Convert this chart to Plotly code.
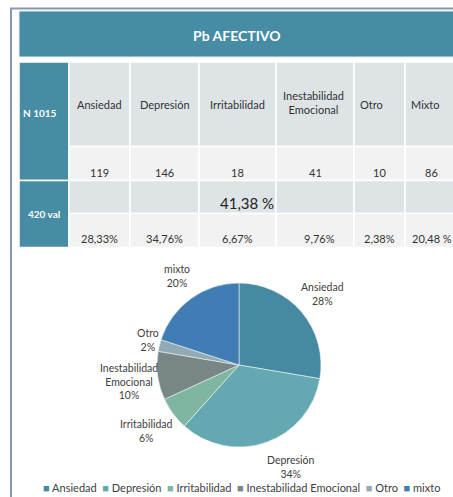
import plotly.graph_objects as go

W, H = 453, 497

# ---------------- data ----------------
title = "Pb AFECTIVO"
n_label = "N 1015"
val_label = "420 val"
categories = ["Ansiedad", "Depresión", "Irritabilidad", "Inestabilidad Emocional", "Otro", "Mixto"]
counts = [119, 146, 18, 41, 10, 86]
percents = ["28,33%", "34,76%", "6,67%", "9,76%", "2,38%", "20,48 %"]
total_pct = "41,38 %"

pie_labels = ["Ansiedad", "Depresión", "Irritabilidad", "Inestabilidad Emocional", "Otro", "mixto"]
pie_values = [28.33, 34.76, 6.67, 9.76, 2.38, 20.48]
pie_pct_text = ["28%", "34%", "6%", "10%", "2%", "20%"]
slice_colors = ["#4689a2", "#64a9b1", "#7fb6a1", "#798686", "#91abb4", "#3f7db4"]

# layout only: pixel centres of the pie's data labels (as placed in the reference)
pie_label_pos = [(322, 294), (291, 467), (146, 431), (129, 381), (148, 340), (177, 276)]

# ---------------- helpers ----------------
def px(x):
    return x / W

def py(y):
    return 1 - y / H

TEAL = "#458ca4"
GRAY_ROW = "#dee3e6"
LIGHT_ROW = "#f2f2f2"
TXT = "#333333"
FONT = "Lato"

shapes = []
annotations = []

def rect(x0, y0, x1, y1, fill, line="white", lw=1.5):
    shapes.append(dict(type="rect", xref="paper", yref="paper",
                       x0=px(x0), x1=px(x1), y0=py(y1), y1=py(y0),
                       fillcolor=fill, line=dict(color=line, width=lw), layer="below"))

def text(x, y, s, size=11, color=TXT, xanchor="center", bold=False):
    if bold:
        s = "<b>" + s + "</b>"
    annotations.append(dict(xref="paper", yref="paper", x=px(x), y=py(y), text=s,
                            showarrow=False, xanchor=xanchor, yanchor="middle",
                            font=dict(family=FONT, size=size, color=color)))

# frame
frame_col = "#8797b4"
shapes.append(dict(type="line", xref="paper", yref="paper", x0=px(10), x1=px(460),
                   y0=py(8.5), y1=py(8.5), line=dict(color=frame_col, width=2)))
shapes.append(dict(type="line", xref="paper", yref="paper", x0=px(11), x1=px(11),
                   y0=py(8), y1=py(500), line=dict(color=frame_col, width=2)))

# title header
rect(19, 11, 460, 57, TEAL, line="#e9eef0", lw=1)
text(237, 35, title, size=14, color="white", bold=True)

# table
col_x = [19, 69, 130, 199, 276, 354, 405, 458]
row_y = [62, 146.5, 180.5, 213.5, 247.5]
row_fill = [GRAY_ROW, LIGHT_ROW, GRAY_ROW, LIGHT_ROW]

rect(col_x[0], row_y[0], col_x[1], row_y[2], TEAL)
rect(col_x[0], row_y[2], col_x[1], row_y[4], TEAL)
for r in range(4):
    for c in range(1, 7):
        rect(col_x[c], row_y[r], col_x[c + 1], row_y[r + 1], row_fill[r])

text(21, 113, n_label, size=10, color="white", xanchor="left", bold=True)
text(44, 214, val_label, size=10, color="white", bold=True)

for i, cat in enumerate(categories):
    x0, x1 = col_x[i + 1], col_x[i + 2]
    cx = (x0 + x1) / 2
    if " " in cat:
        text(x0 + 5, 102, cat.replace(" ", "<br>"), size=11, xanchor="left")
    elif i >= 4:
        text(x0 + 4, 104, cat, size=11, xanchor="left")
    else:
        text(cx, 104, cat, size=11)
    text(cx, 172, str(counts[i]), size=11)
    text(cx + (4 if i == 3 else 0), 239, percents[i], size=11)

text(247, 203, total_pct, size=15, color="#222222")

# pie data labels
for lab, pct, (lx, ly) in zip(pie_labels, pie_pct_text, pie_label_pos):
    text(lx, ly, lab.replace(" ", "<br>") + "<br>" + pct, size=10.5, color="#404040")

# legend (compact, as in the reference)
leg_parts = []
for lab, col in zip(pie_labels, slice_colors):
    leg_parts.append("<span style='color:%s'>■</span> %s" % (col, lab))
annotations.append(dict(xref="paper", yref="paper", x=px(241), y=py(487),
                        text="  ".join(leg_parts), showarrow=False,
                        xanchor="center", yanchor="middle",
                        font=dict(family=FONT, size=11, color="#404040")))

fig = go.Figure(go.Pie(
    labels=pie_labels,
    values=pie_values,
    textinfo="none",
    sort=False,
    direction="clockwise",
    rotation=0,
    marker=dict(colors=slice_colors, line=dict(color="#eef2f3", width=0.6)),
    showlegend=False,
    hoverinfo="label+percent",
    domain=dict(x=[px(157), px(321)], y=[py(447), py(283)]),
))

fig.update_layout(
    width=W, height=H,
    margin=dict(l=0, r=0, t=0, b=0),
    paper_bgcolor="white",
    plot_bgcolor="white",
    shapes=shapes,
    annotations=annotations,
    showlegend=False,
)

fig.write_html(
    "out.html",
    config={"displayModeBar": False},
    post_script="document.body.style.margin='0';document.body.style.overflow='hidden';",
)
